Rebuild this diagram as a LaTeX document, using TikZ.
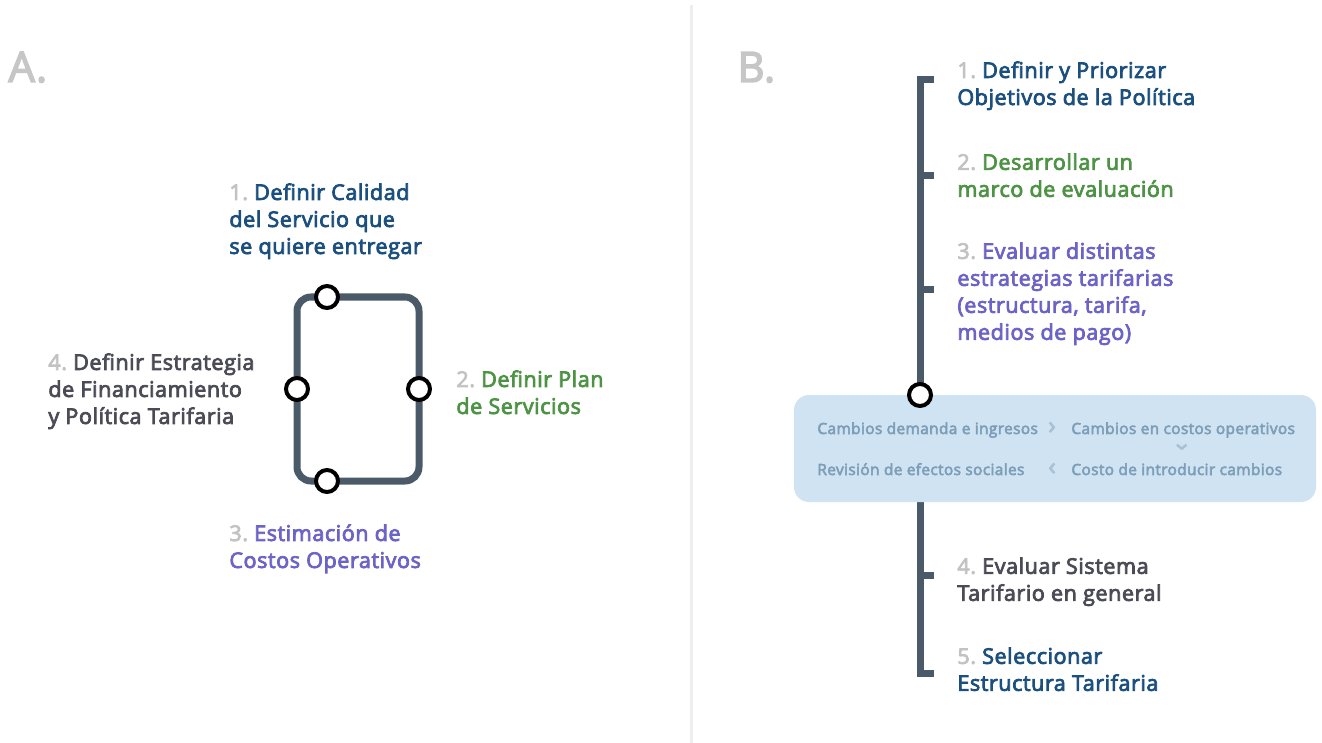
\documentclass[tikz,border=0pt]{standalone}
\usepackage{fontspec}
\setmainfont{Open Sans}[FakeBold=3.5, LetterSpace=2.5]
\usetikzlibrary{positioning}
\definecolor{azul}{HTML}{1B4F7E}
\definecolor{verde}{HTML}{4E9345}
\definecolor{morado}{HTML}{6B63C6}
\definecolor{gristxt}{HTML}{4B4B55}
\definecolor{numgris}{HTML}{C2C2C2}
\definecolor{pizarra}{HTML}{4A5A69}
\definecolor{celeste}{HTML}{D0E3F2}
\definecolor{celestetxt}{HTML}{7D9EB8}
\definecolor{flecha}{HTML}{A9C1D5}
\definecolor{letra}{HTML}{C6C6C6}
\definecolor{divisor}{HTML}{EEEEEE}
\newcommand{\nro}[1]{\textcolor{numgris}{#1}~}
\tikzstyle{paso}=[inner sep=0pt, anchor=north west, align=left,
        font=\fontsize{10.8}{13.5}\selectfont]
\tikzstyle{etapa}=[inner sep=0pt, anchor=base west, text=celestetxt,
        font=\fontsize{7.7}{9}\selectfont]
\tikzstyle{hito}=[circle, draw=black, line width=2pt, fill=white,
        inner sep=0pt, minimum size=11pt]
\tikzstyle{letrero}=[inner sep=0pt, anchor=base west, text=letra,
        font=\fontsize{21}{21}\selectfont]
\tikzstyle{chevron}=[text=flecha, inner sep=0pt, font=\fontsize{12}{12}\selectfont]

\begin{document}
\begin{tikzpicture}[x=0.5pt, y=-0.5pt]
        \useasboundingbox (0,0) rectangle (1322,743);
        \draw[divisor, line width=1.5pt] (691.5,5) -- (691.5,743);
        \node (letraA) [letrero] at (8,82) {A.};
        \node (letraB) [letrero] at (737,82) {B.};

        % A: ciclo
        \draw[pizarra, line width=3.5pt, rounded corners=7pt] (297,297) rectangle (419,481);
        \node (h1) [hito] at (327,297) {};
        \node (h2) [hito] at (419,389) {};
        \node (h3) [hito] at (327,481) {};
        \node (h4) [hito] at (297,389) {};
        \node (calidad) [paso, text=azul] at (229,183)
        {
          \nro{1.}Definir Calidad\\del Servicio que\\se quiere entregar
        };
        \node (plan) [paso, text=verde] at (456,370)
        {
          \nro{2.}Definir Plan\\de Servicios
        };
        \node (costos) [paso, text=morado] at (229,524)
        {
          \nro{3.}Estimación de\\Costos Operativos
        };
        \node (financiamiento) [paso, text=gristxt] at (48,353)
        {
          \nro{4.}Definir Estrategia\\de Financiamiento\\y Política Tarifaria
        };

        % B: secuencia
        \draw[pizarra, line width=3.5pt] (934,80) -- (920,80) -- (920,673) -- (934,673);
        \draw[pizarra, line width=3.5pt] (920,176) -- (934,176);
        \draw[pizarra, line width=3.5pt] (920,290) -- (934,290);
        \draw[pizarra, line width=3.5pt] (920,575) -- (934,575);
        \node (evaluacion) [rectangle, rounded corners=7.5pt, fill=celeste,
          minimum width=261pt, minimum height=53.5pt] at (1055,448.5) {};
        \node (hB) [hito] at (920,395) {};
        \node (objetivos) [paso, text=azul] at (957,61)
        {
          \nro{1.}Definir y Priorizar\\Objetivos de la Política
        };
        \node (marco) [paso, text=verde] at (957,153)
        {
          \nro{2.}Desarrollar un\\marco de evaluación
        };
        \node (estrategias) [paso, text=morado] at (957,242)
        {
          \nro{3.}Evaluar distintas\\estrategias tarifarias\\(estructura, tarifa,\\medios de pago)
        };
        \node (sistema) [paso, text=gristxt] at (957,557)
        {
          \nro{4.}Evaluar Sistema\\Tarifario en general
        };
        \node (estructura) [paso, text=azul] at (957,647)
        {
          \nro{5.}Seleccionar\\Estructura Tarifaria
        };
        \node (demanda) [etapa] at (817,434) {Cambios demanda e ingresos};
        \node (operativos) [etapa] at (1071,434) {Cambios en costos operativos};
        \node (sociales) [etapa] at (817,475) {Revisión de efectos sociales};
        \node (introducir) [etapa] at (1071,475) {Costo de introducir cambios};
        \node (f1) [chevron] at (1052,428) {›};
        \node (f2) [chevron, rotate=-90] at (1181,447) {›};
        \node (f3) [chevron] at (1052,469) {‹};
\end{tikzpicture}
\end{document}
